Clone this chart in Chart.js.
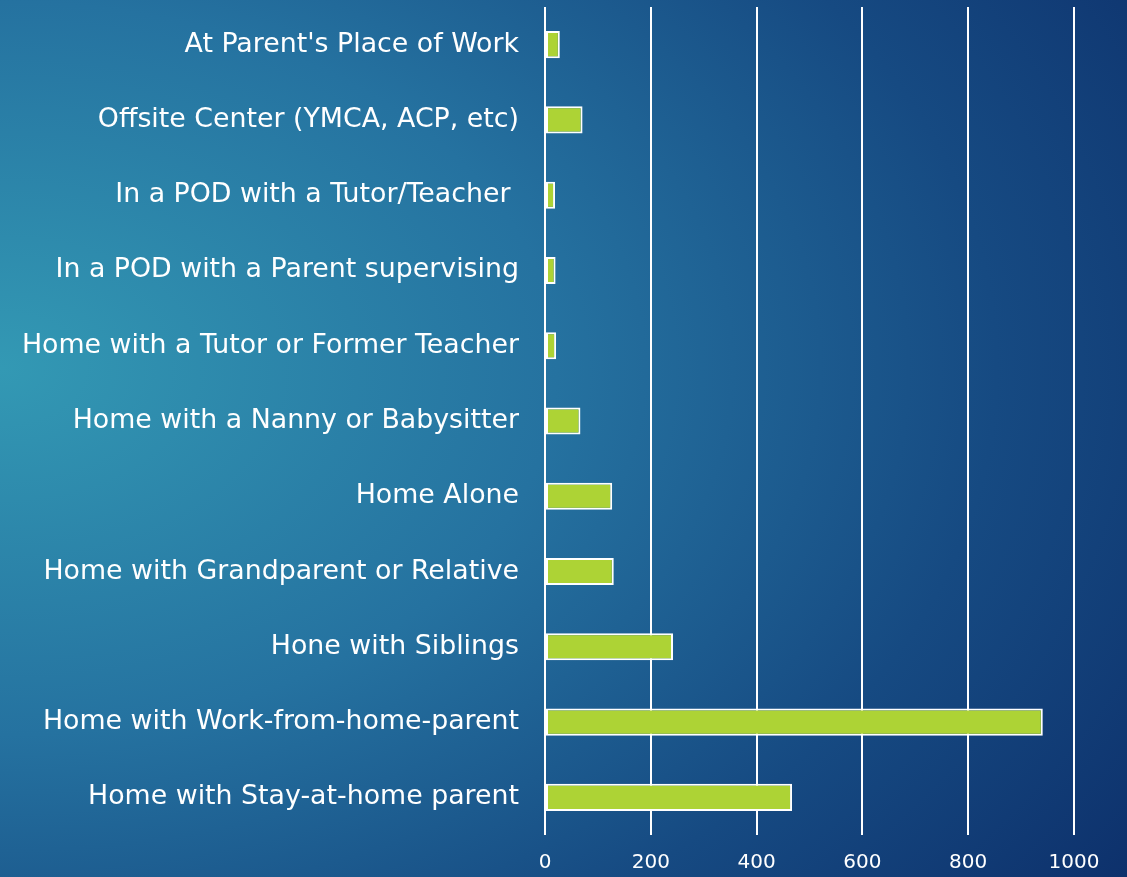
<!DOCTYPE html>
<html>
<head>
<meta charset="utf-8">
<script src="https://cdn.jsdelivr.net/npm/chart.js@4"></script>
<style>
  html, body { margin: 0; padding: 0; }
  body {
    width: 1127px;
    height: 877px;
    overflow: hidden;
    background: radial-gradient(ellipse 130% 110% at 0% 42%, #3399b4 0%, #2572a0 38%, #164a82 68%, #0b2a66 100%);
  }
  #wrap { position: relative; width: 1127px; height: 877px; }
</style>
</head>
<body>
<div id="wrap"><canvas id="chart"></canvas></div>
<script>
// categorias de cima para baixo
const categories = [
  "At Parent's Place of Work",
  'Offsite Center (YMCA, ACP, etc)',
  'In a POD with a Tutor/Teacher ',
  'In a POD with a Parent supervising',
  'Home with a Tutor or Former Teacher',
  'Home with a Nanny or Babysitter',
  'Home Alone',
  'Home with Grandparent or Relative',
  'Hone with Siblings',
  'Home with Work-from-home-parent',
  'Home with Stay-at-home parent'
];
const counts = [28, 71, 19, 20, 21, 67, 127, 130, 242, 941, 467];
const xTicks = [0, 200, 400, 600, 800, 1000];

const ctx = document.getElementById('chart').getContext('2d');
new Chart(ctx, {
  type: 'bar',
  data: {
    labels: categories,
    datasets: [{
      data: counts,
      backgroundColor: '#add335',
      borderColor: '#ffffff',
      borderWidth: 2,
      borderSkipped: false,
      categoryPercentage: 1,
      barPercentage: 0.36
    }]
  },
  options: {
    indexAxis: 'y',
    responsive: true,
    maintainAspectRatio: false,
    animation: false,
    layout: { padding: { top: 7, right: 53, bottom: 0, left: 0 } },
    plugins: {
      legend: { display: false },
      tooltip: { enabled: false }
    },
    scales: {
      x: {
        min: xTicks[0],
        max: xTicks[xTicks.length - 1],
        afterBuildTicks: function(scale) {
          scale.ticks = xTicks.map(v => ({ value: v }));
        },
        afterFit: function(scale) { scale.height = 42; },
        grid: { color: '#ffffff', lineWidth: 2, drawTicks: false },
        border: { display: false },
        ticks: {
          color: '#ffffff',
          padding: 16,
          font: { family: 'DejaVu Sans', size: 20 },
          callback: function(value) { return String(value); }
        }
      },
      y: {
        afterFit: function(scale) {
          scale.width = 545;
          scale.paddingTop = 0;
          scale.paddingBottom = 0;
        },
        grid: { display: false, drawTicks: false },
        border: { display: false },
        ticks: {
          color: '#ffffff',
          padding: 26,
          font: { family: 'DejaVu Sans', size: 26.8 }
        }
      }
    }
  }
});
</script>
</body>
</html>
